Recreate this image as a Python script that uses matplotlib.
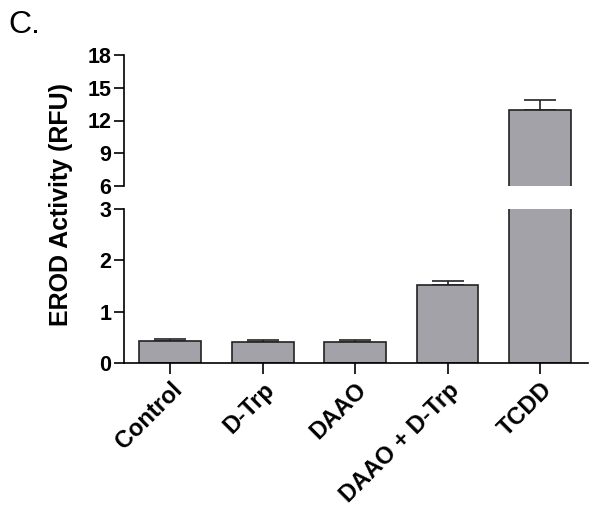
import matplotlib
matplotlib.use("Agg")
import matplotlib.pyplot as plt
from matplotlib.ticker import FixedLocator
import numpy as np

categories = ["Control", "D-Trp", "DAAO", "DAAO + D-Trp", "TCDD"]
values = [0.42, 0.41, 0.41, 1.52, 12.97]
errors = [0.05, 0.03, 0.03, 0.08, 0.95]
lower_ticks = [0, 1, 2, 3]
upper_ticks = [6, 9, 12, 15, 18]

plt.rcParams['font.family'] = ['Liberation Sans', 'DejaVu Sans']

W, H = 602, 516
fig = plt.figure(figsize=(W / 100, H / 100), dpi=100)

def fr(x0, y0, x1, y1):
    return [x0 / W, 1 - y1 / H, (x1 - x0) / W, (y1 - y0) / H]

ax_lo = fig.add_axes(fr(124, 209, 588, 363))
ax_hi = fig.add_axes(fr(124, 55, 588, 186))

bar_color = "#a2a2a8"
edge = "#222222"
x = np.arange(len(categories))
lw = 1.2

for ax in (ax_lo, ax_hi):
    ax.bar(x, values, width=0.67, color=bar_color, edgecolor=edge, linewidth=lw, zorder=2)
    ax.errorbar(x, values, yerr=[np.zeros(len(errors)), errors], fmt='none',
                ecolor=edge, elinewidth=lw, capsize=11.5, capthick=lw, zorder=1)
    ax.set_xlim(-0.5, 4.52)
    for s in ("top", "right"):
        ax.spines[s].set_visible(False)
    ax.spines["left"].set_linewidth(lw)
    ax.spines["bottom"].set_linewidth(lw)
    ax.tick_params(axis='y', direction='out', length=7, width=lw, labelsize=15, pad=2)

ax_lo.set_ylim(0, 3)
ax_lo.set_yticks(lower_ticks)
ax_lo.set_yticklabels([str(v) for v in lower_ticks], fontweight='bold', fontsize=15.5)
ax_lo.set_xticks(x)
ax_lo.set_xticklabels(categories, rotation=45, ha='right', rotation_mode='anchor',
                      fontweight='bold', fontsize=17)
ax_lo.tick_params(axis='x', direction='out', length=8, width=lw, pad=3)
ax_lo.yaxis.set_minor_locator(FixedLocator([3]))
ax_lo.tick_params(axis='y', which='minor', direction='inout', length=12, width=lw)

ax_hi.set_ylim(6, 18)
ax_hi.set_yticks(upper_ticks)
ax_hi.set_yticklabels([str(v) for v in upper_ticks], fontweight='bold', fontsize=15.5)
ax_hi.spines["bottom"].set_visible(False)
ax_hi.set_xticks([])
ax_hi.yaxis.set_minor_locator(FixedLocator([6]))
ax_hi.tick_params(axis='y', which='minor', direction='inout', length=12, width=lw)

fig.text(68 / W, 1 - 205 / H, "EROD Activity (RFU)", rotation=90, ha='center', va='baseline',
         rotation_mode='anchor', fontsize=18, fontweight='bold')
fig.text(8 / W, 1 - 33 / H, "C.", fontsize=23, ha='left', va='baseline')

fig.savefig("out.png", dpi=100)
